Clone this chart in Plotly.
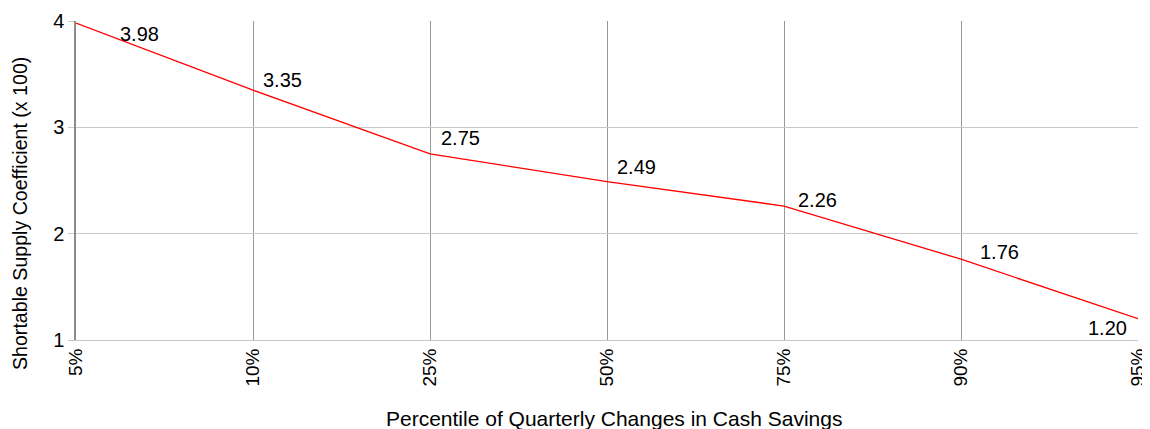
import plotly.graph_objects as go

categories = ["5%", "10%", "25%", "50%", "75%", "90%", "95%"]
coefficients = [3.98, 3.35, 2.75, 2.49, 2.26, 1.76, 1.20]
value_labels = ["3.98", "3.35", "2.75", "2.49", "2.26", "1.76", "1.20"]
y_ticks = [1, 2, 3, 4]
x_title = "Percentile of Quarterly Changes in Cash Savings"
y_title = "Shortable Supply Coefficient (x 100)"

# label placement (pixels) relative to each point: (xanchor, xshift, yshift)
label_place = [("left", 42, -11), ("left", 8, 10), ("left", 9, 16), ("left", 8, 15),
               ("left", 12, 6), ("left", 17, 7), ("right", -9, -9)]

FONT = "Liberation Sans, Arial, sans-serif"
FS = 20
PAGE_PAD = 8  # default body margin of the html page
xs = list(range(len(categories)))

fig = go.Figure()
fig.add_trace(go.Scatter(
    x=xs, y=coefficients, mode="lines",
    line=dict(color="#ff0000", width=1.3),
    hoverinfo="skip", showlegend=False,
))

for i, (x, y, t) in enumerate(zip(xs, coefficients, value_labels)):
    xa, dx, dy = label_place[i]
    fig.add_annotation(x=x, y=y, text=t, showarrow=False,
                       xanchor=xa, yanchor="middle", xshift=dx, yshift=dy,
                       font=dict(family=FONT, size=FS, color="#000000"))

# axis titles
fig.add_annotation(xref="paper", yref="paper", x=0.5, y=0, text=x_title,
                   showarrow=False, xanchor="center", yanchor="middle",
                   xshift=7, yshift=-78,
                   font=dict(family=FONT, size=21, color="#000000"))
fig.add_annotation(xref="paper", yref="paper", x=0, y=0, text=y_title,
                   showarrow=False, textangle=-90, xanchor="center", yanchor="middle",
                   xshift=-56, yshift=126,
                   font=dict(family=FONT, size=19.6, color="#000000"))

fig.update_layout(
    width=1150 - PAGE_PAD, height=429 - PAGE_PAD,
    margin=dict(l=76 - PAGE_PAD, r=12, t=21 - PAGE_PAD, b=89, autoexpand=False),
    paper_bgcolor="white", plot_bgcolor="white",
    font=dict(family=FONT, size=FS, color="#000000"),
)
fig.update_xaxes(
    range=[0, len(categories) - 1],
    tickmode="array", tickvals=xs, ticktext=categories,
    tickangle=-90, tickfont=dict(family=FONT, size=19),
    ticklabeloverflow="allow",
    showgrid=True, gridcolor="#999999", gridwidth=1,
    showline=True, linecolor="#c8c8c8", linewidth=1,
    ticks="", zeroline=False, automargin=False,
)
fig.update_yaxes(
    range=[1, 4], tickmode="array", tickvals=y_ticks,
    ticktext=[str(v) for v in y_ticks],
    tickfont=dict(family=FONT, size=FS),
    showgrid=True, gridcolor="#c8c8c8", gridwidth=1,
    showline=True, linecolor="#8c8c8c", linewidth=1.5,
    ticks="outside", ticklen=6, tickcolor="#c8c8c8",
    zeroline=False, automargin=False,
)

fig.write_html("out.html")
